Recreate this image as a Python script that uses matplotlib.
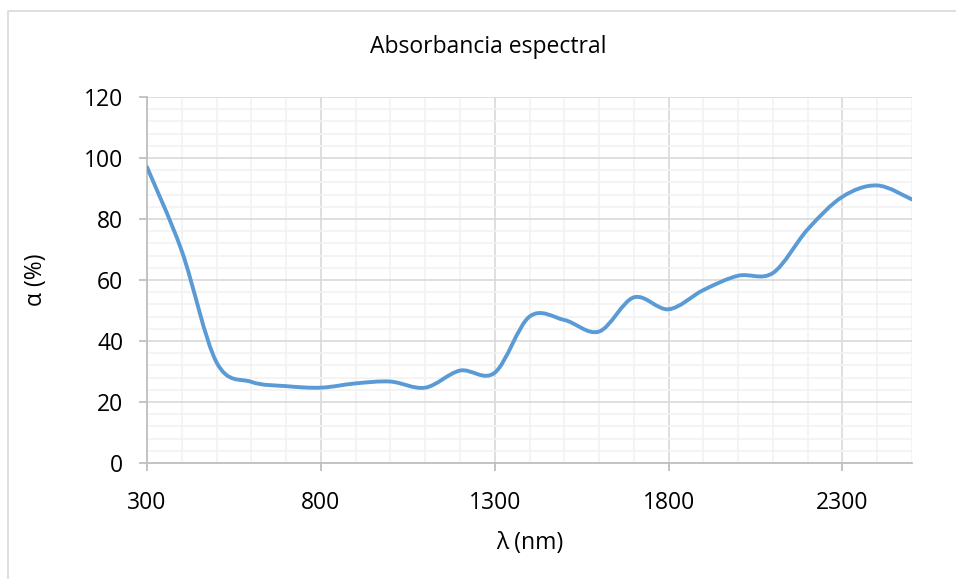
import numpy as np
import matplotlib
matplotlib.use("Agg")
import matplotlib.pyplot as plt
from matplotlib.path import Path
from matplotlib.patches import PathPatch, Rectangle
from matplotlib.ticker import MultipleLocator

# data
wavelength = [300, 400, 500, 600, 700, 800, 900, 1000, 1100, 1200, 1300, 1400,
              1500, 1600, 1700, 1800, 1900, 2000, 2100, 2200, 2300, 2400, 2500]
absorbance = [97.0, 69.5, 33.0, 26.6, 25.2, 24.7, 26.1, 26.7, 24.7, 30.3, 29.6, 48.0,
              46.9, 43.1, 54.3, 50.4, 56.7, 61.4, 62.3, 76.6, 87.3, 91.0, 86.4]
x_ticks = [300, 800, 1300, 1800, 2300]

title = "Absorbancia espectral"
xlabel = "λ (nm)"
ylabel = "α (%)"

FONT = "Open Sans"
LINE_COLOR = "#5B9BD5"


def smooth_path(x, y):
    """Excel-like smoothed line: cubic Bezier segments (Catmull-Rom control points)."""
    pts = np.column_stack([x, y]).astype(float)
    n = len(pts)
    verts = [pts[0]]
    codes = [Path.MOVETO]
    for i in range(n - 1):
        p0 = pts[i - 1] if i > 0 else pts[i]
        p1 = pts[i]
        p2 = pts[i + 1]
        p3 = pts[i + 2] if i + 2 < n else pts[i + 1]
        c1 = p1 + (p2 - p0) / 6.0
        c2 = p2 - (p3 - p1) / 6.0
        verts += [c1, c2, p2]
        codes += [Path.CURVE4] * 3
    return Path(verts, codes)


fig = plt.figure(figsize=(9.56, 5.79), dpi=100)
ax = fig.add_axes([147 / 956, 1 - 463 / 579, (912 - 147) / 956, (463 - 97) / 579])

# chart-area border (runs off the right and bottom edges)
top = 1 - 10.5 / 579
fig.patches.append(Rectangle((7.5 / 956, -0.5), 1.5, top + 0.5,
                             transform=fig.transFigure, fill=False,
                             edgecolor="#d9d9d9", linewidth=1.2))

ax.add_patch(PathPatch(smooth_path(wavelength, absorbance), fill=False,
                       edgecolor=LINE_COLOR, linewidth=2.8, capstyle="round",
                       joinstyle="round", zorder=3))

ax.set_xlim(300, 2500)
ax.set_ylim(0, 120)
ax.set_xticks(x_ticks)
ax.xaxis.set_minor_locator(MultipleLocator(100))
ax.yaxis.set_major_locator(MultipleLocator(20))
ax.yaxis.set_minor_locator(MultipleLocator(4))

ax.grid(True, which="minor", color="#f2f2f2", linewidth=1.2, zorder=0)
ax.grid(True, which="major", color="#d9d9d9", linewidth=1.2, zorder=1)
ax.set_axisbelow(True)

for side in ["top", "right"]:
    ax.spines[side].set_visible(False)
for side in ["left", "bottom"]:
    ax.spines[side].set_color("#bfbfbf")
    ax.spines[side].set_linewidth(1.3)

ax.tick_params(which="major", direction="out", length=6, width=1.3,
               color="#bfbfbf", labelsize=16.5, labelcolor="black")
ax.tick_params(axis="y", which="major", pad=11)
ax.tick_params(axis="x", which="major", pad=14)
ax.tick_params(which="minor", length=0)
for lbl in ax.get_xticklabels() + ax.get_yticklabels():
    lbl.set_fontfamily(FONT)

ax.set_xlabel(xlabel, fontsize=16.5, fontfamily=FONT, labelpad=12)
ax.set_ylabel(ylabel, fontsize=16.5, fontfamily=FONT, labelpad=26)
fig.text(488 / 956, 1 - 47 / 579, title, ha="center", va="center",
         fontsize=16.5, fontfamily=FONT)

fig.savefig("out.png", dpi=100)
